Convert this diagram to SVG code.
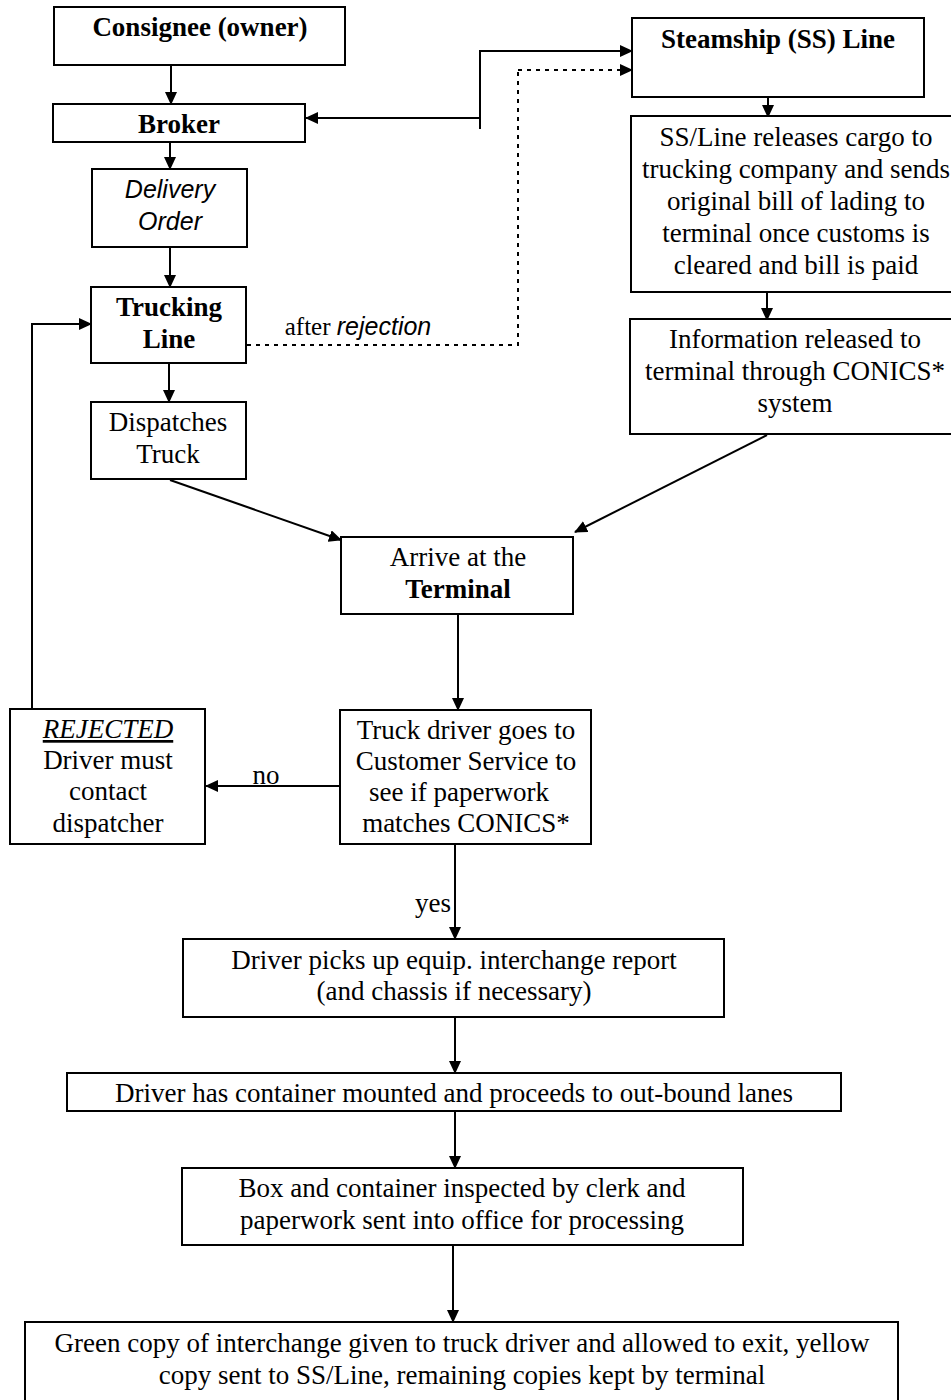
<svg xmlns="http://www.w3.org/2000/svg" width="951" height="1400" viewBox="0 0 951 1400">
<defs>
<marker id="ah" viewBox="0 0 13 12" refX="12" refY="6" markerWidth="13" markerHeight="12" markerUnits="userSpaceOnUse" orient="auto">
<path d="M0,0 L13,6 L0,12 z" fill="#000"/>
</marker>
<style>
rect{fill:#fff;stroke:#000;stroke-width:2}
text{font-family:"Liberation Serif","Times New Roman",serif;font-size:27px;fill:#000;text-anchor:middle}
.b{font-weight:bold}
.i{font-family:"Liberation Sans",Arial,sans-serif;font-style:italic;font-size:25px}
.c line,.c path{stroke:#000;stroke-width:2;fill:none}
.c .a{marker-end:url(#ah)}
.c .d{stroke-dasharray:4 5}
</style>
</defs>
<rect x="0" y="0" width="951" height="1400" style="fill:#fff;stroke:none"/>
<g id="connectors" class="c">
<line class="a" x1="171" y1="65" x2="171" y2="104"/>
<line class="a" x1="170" y1="142" x2="170" y2="169"/>
<line class="a" x1="170" y1="247" x2="170" y2="287"/>
<line class="a" x1="169" y1="363" x2="169" y2="402"/>
<path class="a" d="M480,129 V51 H632"/>
<line class="a" x1="480" y1="118" x2="306" y2="118"/>
<path class="d" d="M247,345 H518 V70"/>
<line class="a d" x1="518" y1="70" x2="632" y2="70"/>
<line class="a" x1="768" y1="88" x2="768" y2="117"/>
<line class="a" x1="767" y1="282" x2="767" y2="320"/>
<line class="a" x1="170" y1="480" x2="341" y2="540"/>
<line class="a" x1="767" y1="435" x2="575" y2="532"/>
<line class="a" x1="458" y1="614" x2="458" y2="710"/>
<line class="a" x1="340" y1="786" x2="206" y2="786"/>
<path class="a" d="M32,709 V324 H91"/>
<line class="a" x1="455" y1="844" x2="455" y2="939"/>
<line class="a" x1="455" y1="1017" x2="455" y2="1073"/>
<line class="a" x1="455" y1="1111" x2="455" y2="1168"/>
<line class="a" x1="453" y1="1245" x2="453" y2="1322"/>
<text x="266" y="784">no</text>
<text x="433" y="912">yes</text>
<text x="358" y="335" style="font-size:25px">after <tspan class="i">rejection</tspan></text>
</g>
<g id="consignee"><rect x="54" y="7" width="291" height="58"/><text class="b" x="200" y="36">Consignee (owner)</text></g>
<g id="broker"><rect x="53" y="104" width="252" height="38"/><text class="b" x="179" y="133">Broker</text></g>
<g id="delivery"><rect x="92" y="169" width="155" height="78"/><text class="i" x="170" y="198">Delivery</text><text class="i" x="170" y="230">Order</text></g>
<g id="trucking"><rect x="91" y="287" width="155" height="76"/><text class="b" x="169" y="316">Trucking</text><text class="b" x="169" y="348">Line</text></g>
<g id="dispatches"><rect x="91" y="402" width="155" height="77"/><text x="168" y="431">Dispatches</text><text x="168" y="463">Truck</text></g>
<g id="steamship"><rect x="632" y="18" width="292" height="79"/><text class="b" x="778" y="48">Steamship (SS) Line</text></g>
<g id="releases"><rect x="631" y="116" width="330" height="176"/><text x="796" y="146">SS/Line releases cargo to</text><text x="796" y="178">trucking company and sends</text><text x="796" y="210">original bill of lading to</text><text x="796" y="242">terminal once customs is</text><text x="796" y="274">cleared and bill is paid</text></g>
<g id="info"><rect x="630" y="319" width="331" height="115"/><text x="795" y="348">Information released to</text><text x="795" y="380">terminal through CONICS*</text><text x="795" y="412">system</text></g>
<g id="arrive"><rect x="341" y="537" width="232" height="77"/><text x="458" y="566">Arrive at the</text><text class="b" x="458" y="598">Terminal</text></g>
<g id="truckdriver"><rect x="340" y="710" width="251" height="134"/><text x="466" y="739">Truck driver goes to</text><text x="466" y="770">Customer Service to</text><text x="459" y="801">see if paperwork</text><text x="466" y="832">matches CONICS*</text></g>
<g id="rejected"><rect x="10" y="709" width="195" height="135"/><text x="108" y="738" style="font-style:italic;text-decoration:underline">REJECTED</text><text x="108" y="769">Driver must</text><text x="108" y="800">contact</text><text x="108" y="832">dispatcher</text></g>
<g id="picksup"><rect x="183" y="939" width="541" height="78"/><text x="454" y="969">Driver picks up equip. interchange report</text><text x="454" y="1000">(and chassis if necessary)</text></g>
<g id="mounted"><rect x="67" y="1073" width="774" height="38"/><text x="454" y="1102">Driver has container mounted and proceeds to out-bound lanes</text></g>
<g id="inspected"><rect x="182" y="1168" width="561" height="77"/><text x="462" y="1197">Box and container inspected by clerk and</text><text x="462" y="1229">paperwork sent into office for processing</text></g>
<g id="green"><rect x="25" y="1322" width="873" height="80"/><text x="462" y="1352">Green copy of interchange given to truck driver and allowed to exit, yellow</text><text x="462" y="1384">copy sent to SS/Line, remaining copies kept by terminal</text></g>
</svg>
